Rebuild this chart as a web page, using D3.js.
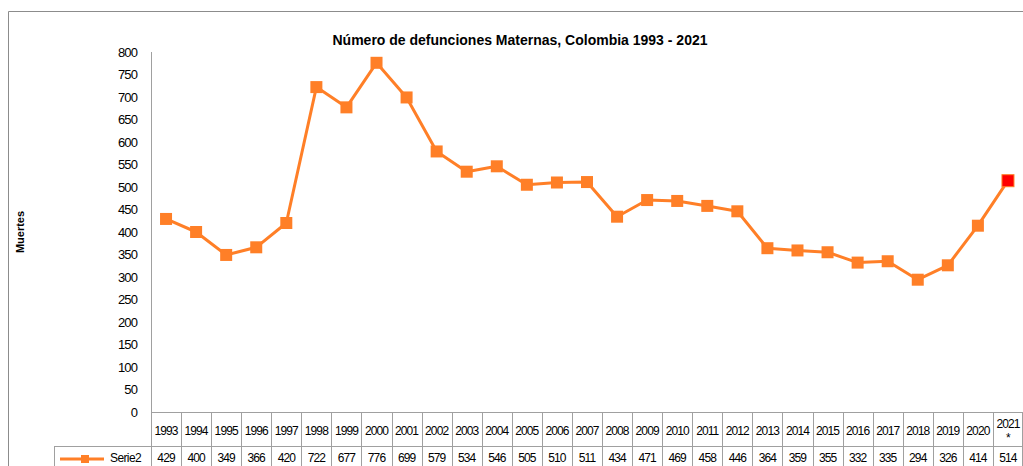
<!DOCTYPE html>
<html>
<head>
<meta charset="utf-8">
<script src="https://cdn.jsdelivr.net/npm/d3@7"></script>
<style>
  body { margin: 0; background: #fff; }
  svg { display: block; font-family: "Liberation Sans", Arial, sans-serif; }
</style>
</head>
<body>
<div id="chart"></div>
<script>
const years = ['1993', '1994', '1995', '1996', '1997', '1998', '1999', '2000', '2001', '2002',
  '2003', '2004', '2005', '2006', '2007', '2008', '2009', '2010', '2011', '2012',
  '2013', '2014', '2015', '2016', '2017', '2018', '2019', '2020', '2021'];
const deaths = [429, 400, 349, 366, 420, 722, 677, 776, 699, 579,
  534, 546, 505, 510, 511, 434, 471, 469, 458, 446,
  364, 359, 355, 332, 335, 294, 326, 414, 514];
const yTicks = [0, 50, 100, 150, 200, 250, 300, 350, 400, 450, 500, 550, 600, 650, 700, 750, 800];
const seriesName = 'Serie2';
const provisionalYear = '2021';

const width = 1023, height = 466;
const margin = { left: 151, right: 0, top: 52, bottom: 54 };
const orange = '#ff7f27', grey = '#a0a0a0';

const svg = d3.select('#chart').append('svg')
  .attr('width', width)
  .attr('height', height);

// outer frame
svg.append('path')
  .attr('d', `M8.5,${height} V11.5 H${width}`)
  .attr('fill', 'none')
  .attr('stroke', '#8c8c8c')
  .attr('stroke-width', 1);

const x = d3.scaleBand().domain(years).range([margin.left, width]);
const y = d3.scaleLinear().domain([0, 800]).range([412, margin.top]);

// title
svg.append('text')
  .attr('x', 520)
  .attr('y', 45)
  .attr('text-anchor', 'middle')
  .attr('font-weight', 'bold')
  .attr('font-size', 14)
  .text('Número de defunciones Maternas, Colombia 1993 - 2021');

// y axis title
svg.append('text')
  .attr('transform', 'translate(24,232) rotate(-90)')
  .attr('text-anchor', 'middle')
  .attr('font-weight', 'bold')
  .attr('font-size', 11)
  .text('Muertes');

// y axis
const yAxis = svg.append('g')
  .attr('transform', `translate(${margin.left},0)`)
  .call(d3.axisLeft(y).tickValues(yTicks).tickSize(0).tickPadding(14));
yAxis.select('.domain').attr('stroke', grey).attr('d', `M0.5,${y(800)}V${y(0)}`);
yAxis.selectAll('text')
  .attr('font-size', 13)
  .attr('letter-spacing', -0.9)
  .attr('fill', '#000')
  .attr('font-family', '"Liberation Sans", Arial, sans-serif');

// data table
const rowTop = y(0), rowMid = 446, rowBottom = height + 20;
const table = svg.append('g').attr('stroke', grey).attr('stroke-width', 1).attr('fill', 'none');
table.append('line').attr('x1', margin.left).attr('x2', width).attr('y1', rowTop + 0.5).attr('y2', rowTop + 0.5);
table.append('line').attr('x1', 54).attr('x2', width).attr('y1', rowMid + 0.5).attr('y2', rowMid + 0.5);
table.append('line').attr('x1', 54.5).attr('x2', 54.5).attr('y1', rowMid).attr('y2', rowBottom);
table.selectAll('line.col')
  .data(years.concat(['end']))
  .enter()
  .append('line')
  .attr('class', 'col')
  .attr('x1', d => Math.round(d === 'end' ? width - 1 : x(d)) + 0.5)
  .attr('x2', d => Math.round(d === 'end' ? width - 1 : x(d)) + 0.5)
  .attr('y1', rowTop)
  .attr('y2', rowBottom);

// header cells
const header = svg.append('g').attr('font-size', 12).attr('letter-spacing', -0.9).attr('text-anchor', 'middle');
header.selectAll('text')
  .data(years)
  .enter()
  .append('text')
  .attr('x', d => x(d) + x.bandwidth() / 2)
  .attr('y', d => d === provisionalYear ? 428 : 435)
  .text(d => d);
header.append('text')
  .attr('x', x(provisionalYear) + x.bandwidth() / 2)
  .attr('y', 442)
  .text('*');

// value cells
svg.append('g').attr('font-size', 12).attr('letter-spacing', -0.9).attr('text-anchor', 'middle')
  .selectAll('text')
  .data(deaths)
  .enter()
  .append('text')
  .attr('x', (d, i) => x(years[i]) + x.bandwidth() / 2)
  .attr('y', 462)
  .text(d => d);

// legend key
svg.append('line')
  .attr('x1', 60).attr('x2', 104)
  .attr('y1', 459).attr('y2', 459)
  .attr('stroke', orange).attr('stroke-width', 3);
svg.append('rect')
  .attr('x', 81).attr('y', 455).attr('width', 8).attr('height', 8)
  .attr('fill', orange);
svg.append('text')
  .attr('x', 110).attr('y', 462)
  .attr('font-size', 12)
  .attr('letter-spacing', -0.6)
  .text(seriesName);

// line
const line = d3.line()
  .x((d, i) => x(years[i]) + x.bandwidth() / 2)
  .y(d => y(d));
svg.append('path')
  .datum(deaths)
  .attr('d', line)
  .attr('fill', 'none')
  .attr('stroke', orange)
  .attr('stroke-width', 3)
  .attr('stroke-linejoin', 'round');

// markers
const size = 12;
svg.append('g')
  .selectAll('rect')
  .data(deaths)
  .enter()
  .append('rect')
  .attr('x', (d, i) => x(years[i]) + x.bandwidth() / 2 - size / 2)
  .attr('y', d => y(d) - size / 2)
  .attr('width', size)
  .attr('height', size)
  .attr('fill', (d, i) => years[i] === provisionalYear ? '#ff0000' : orange)
  .attr('stroke', orange)
  .attr('stroke-width', (d, i) => years[i] === provisionalYear ? 1 : 0);
</script>
</body>
</html>
